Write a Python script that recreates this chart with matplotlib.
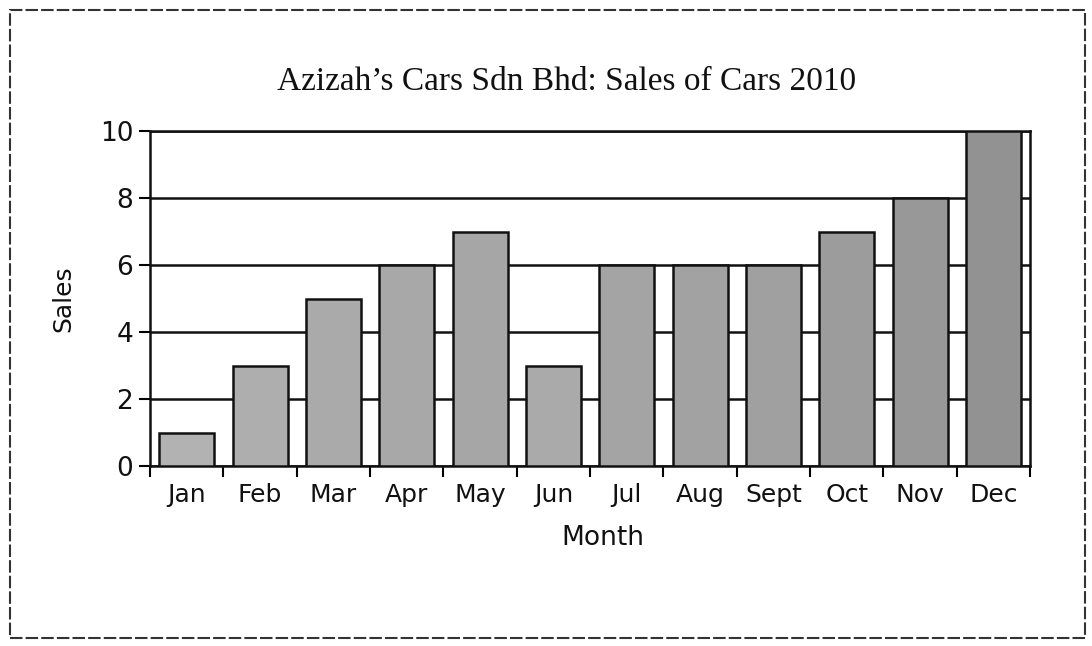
import matplotlib
matplotlib.use("Agg")
import matplotlib.pyplot as plt
from matplotlib.patches import Rectangle
import numpy as np

months = ["Jan", "Feb", "Mar", "Apr", "May", "Jun", "Jul", "Aug", "Sept", "Oct", "Nov", "Dec"]
sales = [1, 3, 5, 6, 7, 3, 6, 6, 6, 7, 8, 10]
bar_colors = ["#b2b2b2", "#aeaeae", "#aaaaaa", "#a8a8a8", "#a6a6a6", "#aaaaaa",
              "#a4a4a4", "#a2a2a2", "#a0a0a0", "#9c9c9c", "#989898", "#929292"]

fig = plt.figure(figsize=(10.92, 6.46), dpi=100)
ax = fig.add_axes([0.1374, 0.2786, 0.8059, 0.5186])

x = np.arange(len(months))
ax.bar(x, sales, width=0.75, color=bar_colors, edgecolor="#111111", linewidth=1.8, zorder=3)

ax.set_xlim(-0.5, len(months) - 0.5)
ax.set_ylim(0, 10)
ax.set_yticks([0, 2, 4, 6, 8, 10])
ax.yaxis.grid(True, color="#111111", linewidth=1.8, zorder=0)
ax.set_axisbelow(True)

ax.set_xticks(np.arange(-0.5, len(months), 1.0))
ax.set_xticklabels([])
ax.set_xticks(x, minor=True)
ax.set_xticklabels(months, minor=True, fontsize=18, family="DejaVu Sans", color="#111111")
ax.tick_params(axis="x", which="major", length=8, width=1.5, direction="out")
ax.tick_params(axis="x", which="minor", length=0, pad=12)
ax.tick_params(axis="y", length=8, width=1.5, labelsize=19, pad=4)
for lab in ax.get_yticklabels():
    lab.set_family("DejaVu Sans")
    lab.set_color("#111111")

for s in ax.spines.values():
    s.set_linewidth(1.8)
    s.set_color("#111111")

ax.set_xlabel("Month", fontsize=19, family="DejaVu Sans", color="#111111")
ax.xaxis.set_label_coords(0.515, -0.175)
ax.set_ylabel("Sales", fontsize=18, family="DejaVu Sans", color="#111111")
ax.yaxis.set_label_coords(-0.085, 0.5)

fig.text(0.519, 0.873, "Azizah\u2019s Cars Sdn Bhd: Sales of Cars 2010", ha="center", va="center",
         fontsize=24, family="Liberation Serif", color="#111111")

fig.patches.append(Rectangle((0.009, 0.012), 0.985, 0.972, transform=fig.transFigure,
                             fill=False, edgecolor="#333333", linewidth=1.5, linestyle=(0, (6, 1.5))))

fig.savefig("out.png", dpi=100)
